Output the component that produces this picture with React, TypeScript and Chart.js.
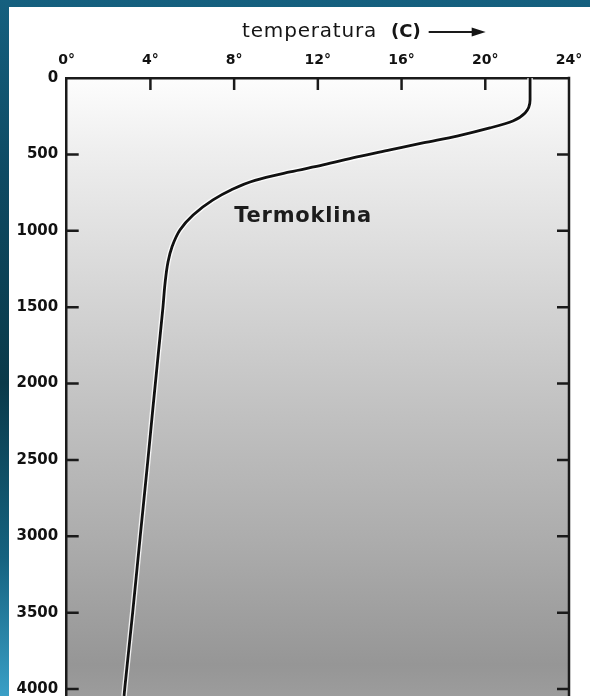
import React, { useEffect, useRef } from "react";
import { Chart, registerables } from "chart.js";

Chart.register(...registerables);

// Depth (m) and temperature (°C) read along the profile
const DEPTH_M = [0, 144, 229, 281, 327, 380, 425, 471, 517, 569, 615, 670, 733, 798, 897, 995, 1106, 1204, 1342, 1499, 1800, 2173, 2500, 3004, 3501, 3986, 4045];
const TEMP_C = [22.14, 22.14, 21.9, 21.32, 20.22, 18.65, 17.02, 15.45, 13.87, 12.25, 10.67, 9.0, 7.85, 6.99, 6.04, 5.41, 5.03, 4.84, 4.7, 4.6, 4.38, 4.11, 3.88, 3.51, 3.15, 2.78, 2.74];

const TEMP_TICKS = [0, 4, 8, 12, 16, 20, 24];
const DEPTH_TICKS = [0, 500, 1000, 1500, 2000, 2500, 3000, 3500, 4000];
const DEPTH_MAX = 4045;

const AXIS_TITLE = "temperatura";
const AXIS_UNIT = "(C)";
const TITLE_CENTER_TEMP = 14.2;
const CURVE_LABEL = "Termoklina";
const CURVE_LABEL_TEMP = 8.0;
const CURVE_LABEL_DEPTH = 910;

export default function App() {
  const ref = useRef<HTMLCanvasElement>(null);

  useEffect(() => {
    const points = DEPTH_M.map((d, i) => ({ x: TEMP_C[i], y: d }));

    const decor = {
      id: "decor",
      beforeDraw(chart: any) {
        const { ctx, chartArea: a } = chart;
        const g = ctx.createLinearGradient(0, a.top, 0, a.bottom);
        g.addColorStop(0, "#fdfdfd");
        g.addColorStop(0.12, "#eeeeee");
        g.addColorStop(0.36, "#d4d4d4");
        g.addColorStop(0.55, "#c0c0c0");
        g.addColorStop(0.75, "#acacac");
        g.addColorStop(0.95, "#969696");
        g.addColorStop(1, "#9c9c9c");
        ctx.save();
        ctx.fillStyle = g;
        ctx.fillRect(a.left, a.top, a.right - a.left, a.bottom - a.top);
        ctx.restore();
      },
      afterDraw(chart: any) {
        const { ctx, chartArea: a } = chart;
        const xs = chart.scales.x;
        const ys = chart.scales.y;
        const TL = 12;
        ctx.save();
        ctx.strokeStyle = "#1a1a1a";
        ctx.lineWidth = 2.5;
        ctx.lineCap = "butt";
        // right border
        ctx.beginPath();
        ctx.moveTo(a.right, a.top - 1.25);
        ctx.lineTo(a.right, a.bottom);
        ctx.stroke();
        // top inward ticks
        TEMP_TICKS.forEach((t) => {
          if (t === TEMP_TICKS[0] || t === TEMP_TICKS[TEMP_TICKS.length - 1]) return;
          const px = xs.getPixelForValue(t);
          ctx.beginPath();
          ctx.moveTo(px, a.top);
          ctx.lineTo(px, a.top + TL);
          ctx.stroke();
        });
        // left & right inward ticks
        DEPTH_TICKS.forEach((d) => {
          if (d === 0) return;
          const py = ys.getPixelForValue(d);
          ctx.beginPath();
          ctx.moveTo(a.left, py);
          ctx.lineTo(a.left + TL, py);
          ctx.moveTo(a.right - TL, py);
          ctx.lineTo(a.right, py);
          ctx.stroke();
        });

        // axis title with arrow
        ctx.fillStyle = "#151515";
        ctx.textBaseline = "middle";
        ctx.textAlign = "left";
        const fN = '20px "DejaVu Sans"';
        const fB = 'bold 18px "DejaVu Sans"';
        const spN = "0.8px";
        (ctx as any).letterSpacing = spN;
        ctx.font = fN;
        const w1 = ctx.measureText(AXIS_TITLE).width;
        (ctx as any).letterSpacing = "0px";
        ctx.font = fB;
        const w2 = ctx.measureText(AXIS_UNIT).width;
        const gap = 14;
        const arrowLen = 57;
        const total = w1 + gap + w2 + 8 + arrowLen;
        let x0 = xs.getPixelForValue(TITLE_CENTER_TEMP) - total / 2;
        const ty = 32;
        (ctx as any).letterSpacing = spN;
        ctx.font = fN;
        ctx.fillText(AXIS_TITLE, x0, ty);
        (ctx as any).letterSpacing = "0px";
        x0 += w1 + gap;
        ctx.font = fB;
        ctx.fillText(AXIS_UNIT, x0, ty);
        x0 += w2 + 8;
        ctx.lineWidth = 2;
        ctx.beginPath();
        ctx.moveTo(x0, ty);
        ctx.lineTo(x0 + arrowLen - 10, ty);
        ctx.stroke();
        ctx.beginPath();
        ctx.moveTo(x0 + arrowLen, ty);
        ctx.lineTo(x0 + arrowLen - 14, ty - 4.5);
        ctx.lineTo(x0 + arrowLen - 14, ty + 4.5);
        ctx.closePath();
        ctx.fill();

        // thermocline label
        ctx.font = 'bold 21px "DejaVu Sans"';
        (ctx as any).letterSpacing = "0.8px";
        ctx.fillStyle = "#1c1c1c";
        ctx.fillText(CURVE_LABEL, xs.getPixelForValue(CURVE_LABEL_TEMP), ys.getPixelForValue(CURVE_LABEL_DEPTH));
        (ctx as any).letterSpacing = "0px";
        ctx.restore();
      },
    };

    const chart = new Chart(ref.current as HTMLCanvasElement, {
      type: "line",
      data: {
        datasets: [
          {
            data: points,
            borderColor: "#111111",
            borderWidth: 2.8,
            pointRadius: 0,
            cubicInterpolationMode: "monotone",
            order: 1,
          },
          {
            data: points,
            borderColor: "rgba(255,255,255,0.85)",
            borderWidth: 5.5,
            pointRadius: 0,
            cubicInterpolationMode: "monotone",
            order: 2,
          },
        ],
      },
      options: {
        indexAxis: "y",
        responsive: false,
        animation: false,
        layout: { padding: { left: 8, right: 21, top: 0, bottom: 0 } },
        plugins: { legend: { display: false }, tooltip: { enabled: false } },
        scales: {
          x: {
            type: "linear",
            position: "top",
            min: 0,
            max: 24,
            afterBuildTicks: (s: any) => {
              s.ticks = TEMP_TICKS.map((v) => ({ value: v }));
            },
            ticks: {
              callback: (v: any) => `${v}°`,
              font: { family: "DejaVu Sans", weight: "bold", size: 14 },
              color: "#111",
              padding: 9,
              maxRotation: 0,
              autoSkip: false,
            },
            grid: { display: false, drawTicks: false },
            border: { display: true, color: "#1a1a1a", width: 2.5 },
            afterFit: (s: any) => {
              s.height = 78;
              s.paddingLeft = 0;
              s.paddingRight = 0;
            },
          },
          y: {
            type: "linear",
            position: "left",
            reverse: true,
            min: 0,
            max: DEPTH_MAX,
            afterBuildTicks: (s: any) => {
              s.ticks = DEPTH_TICKS.map((v) => ({ value: v }));
            },
            ticks: {
              callback: (v: any) => `${v}`,
              font: { family: "DejaVu Sans", weight: "bold", size: 15 },
              color: "#111",
              padding: 8.5,
              autoSkip: false,
            },
            grid: { display: false, drawTicks: false },
            border: { display: true, color: "#1a1a1a", width: 2.5 },
            afterFit: (s: any) => {
              s.width = 58.7;
              s.paddingTop = 0;
              s.paddingBottom = 0;
            },
          },
        },
      },
      plugins: [decor],
    } as any);

    return () => chart.destroy();
  }, []);

  return (
    <div
      style={{
        position: "fixed",
        left: 0,
        top: 0,
        width: 590,
        height: 696,
        overflow: "hidden",
        background:
          "linear-gradient(180deg, #15607f 0%, #0e4a63 25%, #0a3a4a 55%, #15627f 80%, #3a9fc6 100%)",
      }}
    >
      <div
        style={{
          position: "absolute",
          left: 9,
          top: 7,
          width: 581,
          height: 689,
          background: "#ffffff",
        }}
      />
      <canvas
        ref={ref}
        width={590}
        height={696}
        style={{ position: "absolute", left: 0, top: 0, width: 590, height: 696 }}
      />
    </div>
  );
}
